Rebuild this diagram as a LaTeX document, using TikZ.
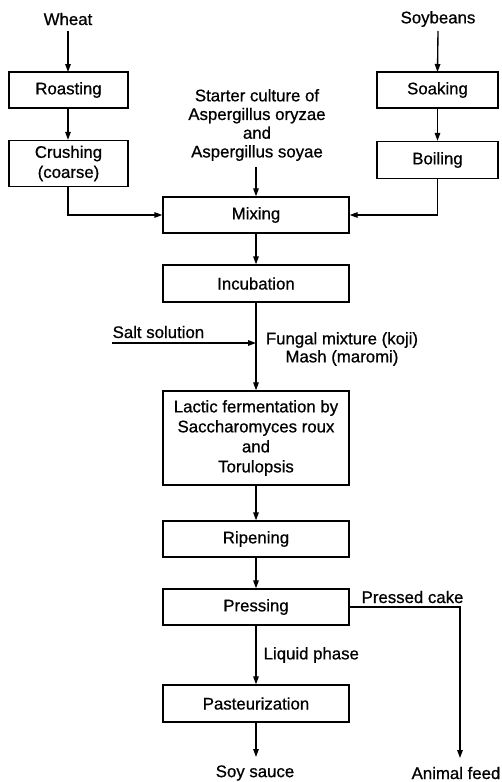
\documentclass[tikz,border=0pt]{standalone}
\usepackage{fontspec}
\setmainfont{Liberation Sans}[FakeBold=0.7]
\usetikzlibrary{arrows.meta,positioning,calc}
\begin{document}
\begin{tikzpicture}[x=1pt,y=-1pt,
  font=\fontsize{16.8}{20}\selectfont,
  line width=1.35pt,
  box/.style={draw,rectangle,inner sep=0pt,align=center},
  lbl/.style={inner sep=0pt,align=center},
  arr/.style={-{Triangle[length=8pt,width=5.5pt]}}]
\useasboundingbox (0,0) rectangle (502,782);
% left column
\node[lbl] (wheat) at (68,19) {Wheat};
\node[box,minimum width=119pt,minimum height=36pt] (roast) at (68.5,90) {Roasting};
\node[box,minimum width=119pt,minimum height=46pt] (crush) at (68.5,163.5) {Crushing\\(coarse)};
% right column
\node[lbl] (soy) at (438,19) {Soybeans};
\node[box,minimum width=121pt,minimum height=36pt] (soak) at (437.5,90) {Soaking};
\node[box,minimum width=121pt,minimum height=37pt] (boil) at (437.5,160) {Boiling};
% starter
\node[lbl,font=\fontsize{16.8}{18.7}\selectfont] (starter) at (257,125) {Starter culture of\\Aspergillus oryzae\\and\\Aspergillus soyae};
% main column
\node[box,minimum width=186pt,minimum height=36pt] (mix) at (256,215) {Mixing};
\node[box,minimum width=186pt,minimum height=37pt] (incub) at (256,283.5) {Incubation};
\node[box,minimum width=186pt,minimum height=94pt] (lactic) at (256,438) {Lactic fermentation by\\Saccharomyces roux\\and\\Torulopsis};
\node[box,minimum width=186pt,minimum height=36pt] (ripen) at (256,539) {Ripening};
\node[box,minimum width=186pt,minimum height=36pt] (press) at (256,607) {Pressing};
\node[box,minimum width=186pt,minimum height=37pt] (past) at (256,703.5) {Pasteurization};
\node[lbl] (sauce) at (255,773) {Soy sauce};
\node[lbl] (feed) at (456,773) {Animal feed};
% side labels
\node[lbl,anchor=west] (salt) at (112,332) {Salt solution};
\node[lbl,font=\fontsize{16.8}{18}\selectfont] (fungal) at (342,349) {Fungal mixture (koji)\\Mash (maromi)};
\node[lbl,anchor=west] (liquid) at (263,655) {Liquid phase};
\node[lbl,anchor=west] (cake) at (361,597) {Pressed cake};
% coordinates
\coordinate (saltstart) at (112,343);
\coordinate (saltend) at (256,343);
\coordinate (feedtop) at (460,758);
% connectors
\draw[arr] (wheat.south |- 0,31) -- (68,72);
\draw[arr] (roast.south -| 68,0) -- (crush.north -| 68,0);
\draw[arr] (crush.south -| 68,0) |- (mix.west);
\draw[arr] (soy.south |- 0,31) -- (437.5,72);
\draw[arr] (soak) -- (boil);
\draw[arr] (boil.south) |- (mix.east);
\draw[arr] (256,167) -- (mix.north);
\draw[arr] (mix) -- (incub);
\draw[arr] (incub) -- (lactic);
\draw[arr] (saltstart) -- (saltend);
\draw[arr] (lactic) -- (ripen);
\draw[arr] (ripen) -- (press);
\draw[arr] (press) -- (past);
\draw[arr] (past.south) -- (256,757);
\draw[arr] (press.east) -| (feedtop);
\end{tikzpicture}
\end{document}
